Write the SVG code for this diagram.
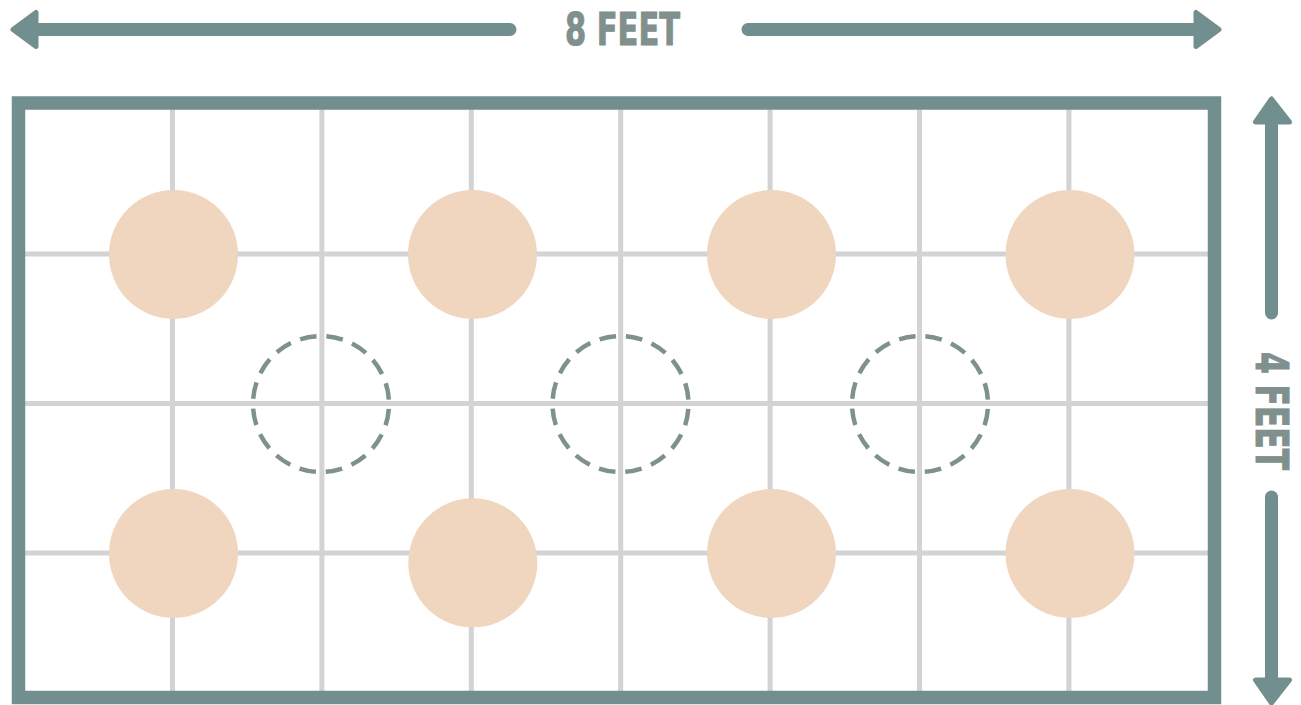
<svg xmlns="http://www.w3.org/2000/svg" width="1301" height="705" viewBox="0 0 1301 705">
<style>
.grid{stroke:#d3d3d3;stroke-width:5;fill:none}
.plant{fill:#f0d5bf}
.spot{fill:none;stroke:#7f918e;stroke-width:4.5;stroke-dasharray:16.7 10.0;stroke-dashoffset:21.7}
.frame{fill:none;stroke:#728f90;stroke-width:13.5}
.shaft{stroke:#728f90;stroke-width:13;stroke-linecap:round;fill:none}
.head{fill:#728f90;stroke:#728f90;stroke-width:5;stroke-linejoin:round}
.lbl{font-family:"DejaVu Sans Condensed","DejaVu Sans",sans-serif;font-weight:bold;font-size:45px;fill:#7f908d;stroke:#7f908d;stroke-width:1}
</style>
<rect width="1301" height="705" fill="#ffffff"/>
<g id="grid">
<line class="grid" x1="172.5" y1="103" x2="172.5" y2="697"/>
<line class="grid" x1="321.9" y1="103" x2="321.9" y2="697"/>
<line class="grid" x1="471.3" y1="103" x2="471.3" y2="697"/>
<line class="grid" x1="620.7" y1="103" x2="620.7" y2="697"/>
<line class="grid" x1="770.1" y1="103" x2="770.1" y2="697"/>
<line class="grid" x1="919.5" y1="103" x2="919.5" y2="697"/>
<line class="grid" x1="1068.9" y1="103" x2="1068.9" y2="697"/>
<line class="grid" x1="18" y1="254" x2="1214" y2="254"/>
<line class="grid" x1="18" y1="403.5" x2="1214" y2="403.5"/>
<line class="grid" x1="18" y1="553" x2="1214" y2="553"/>
</g>
<g id="plants">
<circle id="p1" class="plant" cx="173.5" cy="254.5" r="64.5"/>
<circle id="p2" class="plant" cx="472.5" cy="254.5" r="64.5"/>
<circle id="p3" class="plant" cx="771.5" cy="254.5" r="64.5"/>
<circle id="p4" class="plant" cx="1070" cy="254.5" r="64.5"/>
<circle id="p5" class="plant" cx="173.5" cy="553.5" r="64.5"/>
<circle id="p6" class="plant" cx="472.8" cy="562.8" r="64.5"/>
<circle id="p7" class="plant" cx="771.5" cy="553.5" r="64.5"/>
<circle id="p8" class="plant" cx="1070" cy="553.5" r="64.5"/>
</g>
<g id="spots">
<circle id="s1" class="spot" cx="321" cy="404" r="68"/>
<circle id="s2" class="spot" cx="620.5" cy="404" r="68"/>
<circle id="s3" class="spot" cx="920" cy="404" r="68"/>
</g>
<g id="frame">
<rect class="frame" x="18.5" y="103" width="1196" height="594.5"/>
</g>
<g id="connectors">
<line class="shaft" x1="35" y1="29.5" x2="510" y2="29.5"/>
<polygon class="head" points="13,29.5 36,12.5 36,46.5"/>
<line class="shaft" x1="748" y1="29.5" x2="1196" y2="29.5"/>
<polygon class="head" points="1219,29.5 1196,12.5 1196,46.5"/>
<line class="shaft" x1="1271.5" y1="120" x2="1271.5" y2="313"/>
<polygon class="head" points="1271.5,99 1255.5,122 1289.5,122"/>
<line class="shaft" x1="1271.5" y1="497" x2="1271.5" y2="682"/>
<polygon class="head" points="1271.5,703 1255.5,680 1289.5,680"/>
</g>
<g id="labels">
<text class="lbl" x="622.5" y="45" text-anchor="middle" textLength="115" lengthAdjust="spacingAndGlyphs">8 FEET</text>
<text class="lbl" transform="translate(1256,411) rotate(90)" x="0" y="0" text-anchor="middle" textLength="118" lengthAdjust="spacingAndGlyphs">4 FEET</text>
</g>
</svg>
